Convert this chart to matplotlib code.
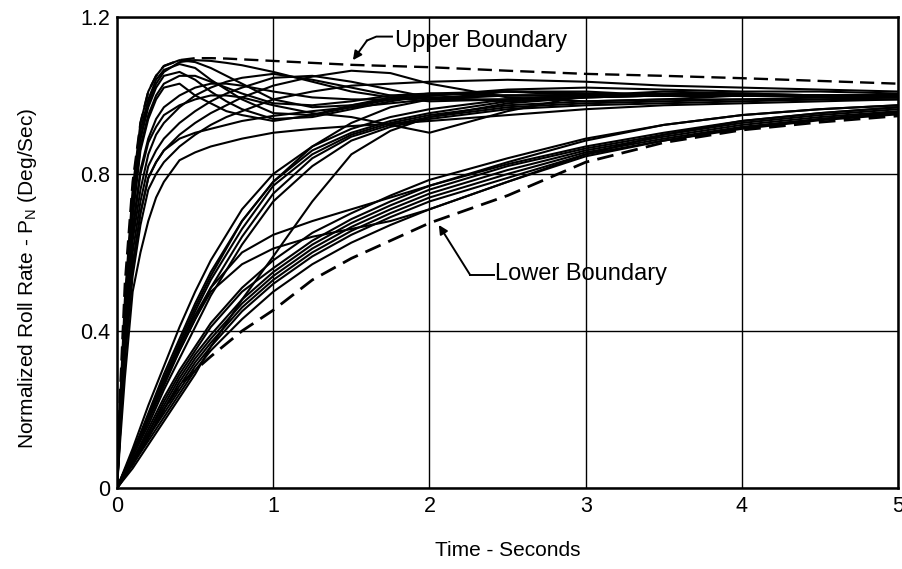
#!/usr/bin/env python

import matplotlib
matplotlib.use("Agg")
import matplotlib.pyplot as plt

plt.rcParams["font.family"] = ["Liberation Sans", "DejaVu Sans"]
plt.rcParams["mathtext.fontset"] = "custom"
plt.rcParams["mathtext.rm"] = "Liberation Sans"
plt.rcParams["mathtext.it"] = "Liberation Sans"

# time grids (seconds) used for the traced curves
t_fast = [0, .02, .05, .1, .15, .2, .25, .3, .4, .5, .6, .7, .8, 1.0,
          1.25, 1.5, 1.75, 2.0, 2.5, 3.0, 3.5, 4.0, 4.5, 5.0]
t_slow = [0, .1, .2, .3, .4, .5, .6, .8, 1.0, 1.25, 1.5, 1.75, 2.0,
          2.5, 3.0, 3.5, 4.0, 4.5, 5.0]

# boundaries
upper_boundary = [0, .25, .52, .78, .93, 1.01, 1.05, 1.075, 1.09, 1.095, 1.095,
                  1.094, 1.092, 1.088, 1.083, 1.078, 1.075, 1.072, 1.063,
                  1.055, 1.05, 1.044, 1.037, 1.03]
lower_boundary = [0, .06, .13, .20, .26, .30, .335, .40, .453, .53, .585, .63,
                  .675, .745, .83, .88, .912, .932, .948]

# fast responding cases (read on t_fast)
fast_d1 = [0, .22, .48, .76, .93, 1.01, 1.05, 1.075, 1.09, 1.085, 1.07, 1.05,
           1.03, .99, .97, .975, .99, 1.0, 1.015, 1.02, 1.015, 1.01, 1.01, 1.005]
fast_d2 = [0, .21, .46, .74, .91, .99, 1.04, 1.065, 1.08, 1.07, 1.04, 1.015,
           .99, .955, .95, .97, .99, 1.0, 1.01, 1.005, 1.0, 1.0, 1.0, 1.0]
fast_d3 = [0, .2, .44, .72, .89, .97, 1.02, 1.05, 1.06, 1.04, 1.01, .985,
           .965, .94, .945, .965, .985, 1.0, 1.01, 1.005, 1.0, 1.0, 1.0, 1.0]
fast_d4 = [0, .19, .42, .69, .86, .94, .99, 1.02, 1.03, 1.0, .98, .96, .95,
           .935, .95, .975, .995, 1.005, 1.01, 1.0, 1.0, 1.0, 1.0, 1.0]
fast_top = [0, .21, .46, .73, .89, .98, 1.03, 1.06, 1.085, 1.09, 1.088, 1.083,
            1.077, 1.06, 1.035, 1.01, .995, .985, .99, 1.0, 1.005, 1.005, 1.0, 1.0]
fast_r1 = [0, .17, .39, .63, .76, .85, .9, .93, .97, 1.0, 1.02, 1.035, 1.045,
           1.055, 1.04, 1.02, 1.0, .99, .99, 1.0, 1.0, 1.0, 1.0, 1.0]
fast_r2 = [0, .16, .37, .6, .73, .82, .86, .89, .93, .96, .985, 1.005, 1.02,
           1.045, 1.05, 1.035, 1.015, .995, .985, .995, 1.0, 1.0, 1.0, 1.0]
fast_r3 = [0, .15, .35, .57, .7, .79, .83, .86, .9, .93, .955, .975, .995,
           1.025, 1.048, 1.063, 1.057, 1.03, .995, .985, .99, 1.0, 1.0, 1.0]
fast_r4 = [0, .14, .33, .54, .67, .76, .8, .83, .87, .9, .925, .945, .96, .99,
           1.01, 1.025, 1.03, 1.035, 1.04, 1.035, 1.025, 1.02, 1.015, 1.01]
fast_slow = [0, .12, .28, .5, .6, .68, .74, .78, .835, .855, .87, .88, .89,
             .905, .915, .922, .928, .935, .95, .965, .975, .98, .985, .99]
fast_dip = [0, .17, .4, .65, .8, .88, .92, .95, .975, .99, 1.0, 1.0, .995,
            .975, .955, .945, .925, .905, .96, 1.0, 1.01, 1.005, 1.0, 1.0]
fast_low = [0, .14, .33, .56, .7, .79, .83, .86, .89, .905, .915, .925, .935,
            .948, .96, .97, .98, .99, 1.0, 1.0, 1.0, 1.0, 1.0, 1.0]
fast_m1 = [0, .2, .43, .7, .87, .95, 1.0, 1.03, 1.05, 1.05, 1.035, 1.02,
           1.005, .98, .975, .985, 1.0, 1.005, 1.0, 1.0, 1.0, 1.0, 1.0, 1.0]
fast_m2 = [0, .18, .41, .66, .81, .89, .94, .97, 1.0, 1.02, 1.03, 1.03, 1.025,
           1.01, .995, .99, .99, .995, 1.0, 1.0, 1.0, 1.0, 1.0, 1.0]

# medium responding cases (read on t_slow)
mid_m1 = [0, .10, .21, .31, .41, .50, .58, .71, .80, .87, .915, .945, .965,
          .99, 1.0, 1.0, 1.0, 1.0, 1.0]
mid_m2 = [0, .09, .19, .29, .38, .47, .55, .68, .78, .86, .905, .935, .955,
          .985, .995, 1.0, 1.0, 1.0, 1.0]
mid_m3 = [0, .09, .18, .27, .36, .45, .53, .66, .77, .85, .90, .93, .95,
          .975, .985, .99, .99, .995, .995]
mid_m4 = [0, .08, .17, .26, .35, .43, .51, .64, .75, .84, .895, .925, .945,
          .97, .98, .985, .99, .99, .995]
mid_m5 = [0, .08, .16, .25, .33, .41, .49, .62, .73, .82, .885, .92, .94,
          .965, .975, .98, .985, .99, .99]
mid_m6 = [0, .09, .18, .28, .37, .46, .54, .68, .78, .87, .93, .97, .99,
          1.01, 1.01, 1.0, 1.0, 1.0, 1.0]
mid_m7 = [0, .05, .11, .17, .23, .29, .36, .48, .59, .73, .85, .91, .945,
          .98, .995, 1.0, 1.0, 1.0, 1.0]
mid_m8 = [0, .09, .18, .27, .35, .43, .50, .57, .61, .64, .66, .68, .71,
          .78, .85, .90, .935, .955, .97]
mid_m9 = [0, .09, .18, .27, .36, .44, .51, .60, .645, .68, .71, .74, .77,
          .83, .885, .925, .95, .965, .975]

# slow responding cases (read on t_slow)
slow_l1 = [0, .07, .15, .23, .30, .36, .42, .51, .58, .65, .70, .745, .785,
           .84, .89, .925, .95, .965, .975]
slow_l2 = [0, .07, .14, .22, .29, .35, .41, .50, .56, .63, .685, .73, .77,
           .825, .87, .905, .935, .955, .97]
slow_l3 = [0, .07, .14, .21, .28, .34, .39, .48, .55, .62, .675, .72, .76,
           .82, .865, .90, .93, .95, .965]
slow_l4 = [0, .065, .13, .20, .27, .33, .38, .47, .54, .61, .665, .71, .75,
           .81, .86, .895, .925, .945, .96]
slow_l5 = [0, .065, .13, .20, .26, .32, .37, .46, .53, .60, .655, .70, .74,
           .80, .855, .89, .92, .94, .958]
slow_l6 = [0, .06, .13, .19, .25, .31, .36, .45, .52, .59, .645, .69, .73,
           .79, .85, .885, .918, .94, .955]
slow_l7 = [0, .06, .12, .18, .24, .30, .35, .43, .50, .57, .625, .67, .71,
           .78, .845, .885, .915, .937, .952]

fast_cases = [fast_d1, fast_d2, fast_d3, fast_d4, fast_top, fast_r1, fast_r2,
              fast_r3, fast_r4, fast_slow, fast_dip, fast_low, fast_m1, fast_m2]
slow_cases = [mid_m1, mid_m2, mid_m3, mid_m4, mid_m5, mid_m6, mid_m7, mid_m8,
              mid_m9, slow_l1, slow_l2, slow_l3, slow_l4, slow_l5, slow_l6,
              slow_l7]

fig = plt.figure(figsize=(9.03, 5.69), dpi=100)
ax = fig.add_axes([0.1296, 0.1424, 0.865, 0.8278])

for y in fast_cases:
    ax.plot(t_fast, y, color="black", lw=1.5)
for y in slow_cases:
    ax.plot(t_slow, y, color="black", lw=1.5)

ax.plot(t_fast, upper_boundary, color="black", lw=1.7, dashes=(6, 3))
ax.plot(t_slow, lower_boundary, color="black", lw=2.0, dashes=(6, 3))

ax.set_xlim(0, 5)
ax.set_ylim(0, 1.2)
ax.set_xticks([0, 1, 2, 3, 4, 5])
ax.set_yticks([0, 0.4, 0.8, 1.2])
ax.set_yticklabels(["0", "0.4", "0.8", "1.2"])
ax.tick_params(length=0, labelsize=15.5)
ax.tick_params(axis="x", pad=6)
ax.tick_params(axis="y", pad=5)
ax.grid(True, color="black", lw=1.0)
for s in ax.spines.values():
    s.set_linewidth(1.8)

ax.set_xlabel("Time - Seconds", fontsize=15)
ax.set_ylabel(r"Normalized Roll Rate - P$_\mathrm{N}$ (Deg/Sec)", fontsize=15)
ax.xaxis.set_label_coords(0.5, -0.112)
ax.yaxis.set_label_coords(-0.1, 0.446)

# labels with leader lines
ax.text(1.78, 1.14, "Upper Boundary", fontsize=17, va="center", ha="left")
ax.plot([1.76, 1.66, 1.60], [1.15, 1.15, 1.14], color="black", lw=1.4)
ax.annotate("", xy=(1.51, 1.09), xytext=(1.60, 1.14),
            arrowprops=dict(arrowstyle="-|>", color="black", lw=1.4,
                            mutation_scale=13, shrinkA=0, shrinkB=0))

ax.text(2.42, 0.545, "Lower Boundary", fontsize=17, va="center", ha="left")
ax.plot([2.41, 2.26], [0.543, 0.543], color="black", lw=1.4)
ax.annotate("", xy=(2.06, 0.67), xytext=(2.26, 0.543),
            arrowprops=dict(arrowstyle="-|>", color="black", lw=1.4,
                            mutation_scale=13, shrinkA=0, shrinkB=0))

fig.savefig("out.png", dpi=100)
